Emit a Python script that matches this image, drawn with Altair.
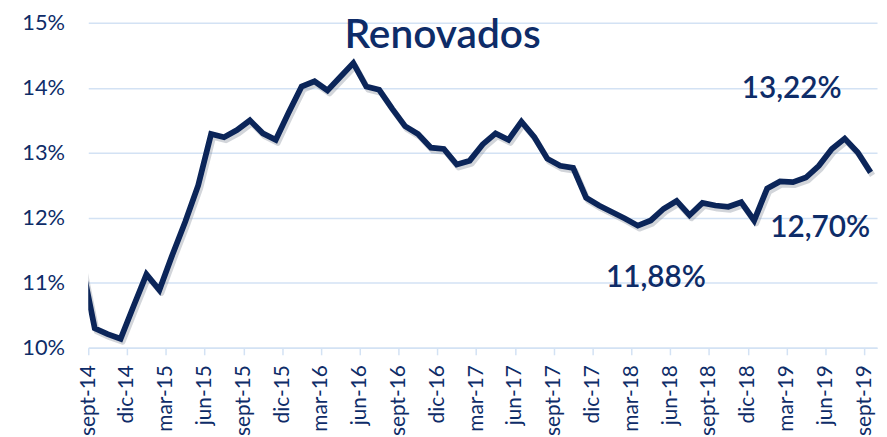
import altair as alt
import pandas as pd

# monthly values, aug-14 ... sept-19 (first point lies left of the axis and is clipped)
month_names = ["ene", "feb", "mar", "abr", "may", "jun", "jul", "ago", "sept", "oct", "nov", "dic"]
values = [11.29, 10.30, 10.21, 10.14, 10.64, 11.13, 10.89, 11.43, 11.94, 12.50,
          13.29, 13.24, 13.35, 13.50, 13.30, 13.20, 13.62, 14.02, 14.10, 13.96,
          14.17, 14.38, 14.02, 13.97, 13.68, 13.41, 13.29, 13.08, 13.06, 12.82,
          12.88, 13.13, 13.30, 13.20, 13.48, 13.24, 12.91, 12.80, 12.77, 12.31,
          12.19, 12.09, 11.99, 11.88, 11.96, 12.14, 12.26, 12.04, 12.23, 12.19,
          12.17, 12.24, 11.96, 12.45, 12.56, 12.55, 12.62, 12.80, 13.06, 13.22,
          13.01, 12.70]
tick_labels = ["sept-14", "dic-14", "mar-15", "jun-15", "sept-15", "dic-15", "mar-16",
               "jun-16", "sept-16", "dic-16", "mar-17", "jun-17", "sept-17", "dic-17",
               "mar-18", "jun-18", "sept-18", "dic-18", "mar-19", "jun-19", "sept-19"]

months = []
for i in range(len(values)):
    m = (7 + i) % 12
    y = 14 + (7 + i) // 12
    months.append(f"{month_names[m]}-{y}")

df = pd.DataFrame({"mes": months, "pos": [i - 0.5 for i in range(len(values))], "valor": values})

ann_text = ["13,22%", "12,70%", "11,88%"]
ann_pos = [54.4, 56.6, 43.9]
ann_val = [13.84, 11.71, 10.93]
ann = pd.DataFrame({"t": ann_text, "pos": ann_pos, "valor": ann_val})

title_df = pd.DataFrame({"t": ["Renovados"], "pos": [27.4], "valor": [14.62]})

NAVY = "#0b2559"
TXT = "#0e2c68"
GRID = "#d3e2f4"
FONT = "Lato"

label_array = "[" + ",".join(f"'{l}'" for l in tick_labels) + "]"

x = alt.X("pos:Q", scale=alt.Scale(domain=[0, 61], nice=False, zero=False),
          axis=alt.Axis(values=list(range(0, 61, 3)), labelExpr=f"{label_array}[round(datum.value/3)]",
                        labelAngle=270, labelAlign="right", labelBaseline="middle",
                        labelFont=FONT, labelFontSize=21, labelColor=TXT, labelPadding=10,
                        ticks=True, tickColor=GRID, tickSize=7, tickWidth=1.5,
                        domain=True, domainColor=GRID, domainWidth=1.5,
                        grid=False, title=None, labelOverlap=False, labelBound=False))
y = alt.Y("valor:Q", scale=alt.Scale(domain=[10, 15], nice=False, zero=False),
          axis=alt.Axis(values=[10, 11, 12, 13, 14, 15], labelExpr="datum.value + '%'",
                        labelFont=FONT, labelFontSize=22, labelColor=TXT, labelPadding=24,
                        ticks=False, domain=False, grid=True, gridColor=GRID, gridWidth=1.5,
                        title=None, minExtent=81, maxExtent=81))

shadow = alt.Chart(df).mark_line(color="#7d8794", opacity=0.35, strokeWidth=6, clip=True,
                                 xOffset=2, yOffset=3, strokeJoin="round").encode(x=x, y=y)
line = alt.Chart(df).mark_line(color=NAVY, strokeWidth=5.8, clip=True,
                               strokeJoin="miter").encode(x=x, y=y)

labels = alt.Chart(ann).mark_text(font=FONT, fontSize=30, fontWeight=600, color=TXT,
                                  align="center", baseline="alphabetic").encode(
    x=x, y=y, text="t:N")
title = alt.Chart(title_df).mark_text(font=FONT, fontSize=41, fontWeight=600, color=TXT,
                                      align="center", baseline="alphabetic").encode(
    x=x, y=y, text="t:N")

chart = alt.layer(shadow, line, labels, title).properties(
    width=796, height=328,
    autosize=alt.AutoSizeParams(type="none"),
    padding={"left": 81, "top": 13, "right": 2, "bottom": 88},
    background="white",
).configure_view(stroke=None)

chart.save("out.html", embed_options={"renderer": "svg", "actions": False})
